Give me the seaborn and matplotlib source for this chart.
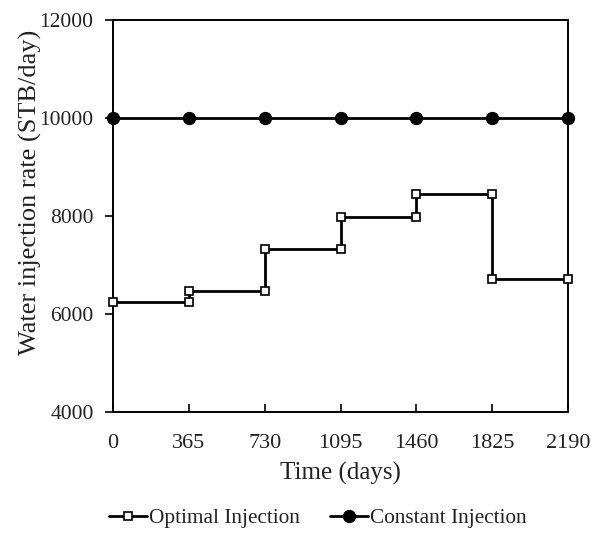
import matplotlib
matplotlib.use("Agg")
import matplotlib.pyplot as plt
import seaborn as sns
import pandas as pd

opt_time = [0, 365, 365, 730, 730, 1095, 1095, 1460, 1460, 1825, 1825, 2190]
opt_rate = [6250, 6250, 6470, 6470, 7320, 7320, 7970, 7970, 8455, 8455, 6710, 6710]
const_time = [0, 365, 730, 1095, 1460, 1825, 2190]
const_rate = [10000, 10000, 10000, 10000, 10000, 10000, 10000]
x_ticks = [0, 365, 730, 1095, 1460, 1825, 2190]
y_ticks = [4000, 6000, 8000, 10000, 12000]

sns.set_style("white")
plt.rcParams['font.family'] = ['Liberation Serif', 'DejaVu Serif']

fig = plt.figure(figsize=(5.92, 5.36), dpi=100)
ax = fig.add_axes([113/592, 1-412/536, (568-113)/592, (412-20)/536])

df_opt = pd.DataFrame({"t": opt_time, "r": opt_rate})
df_const = pd.DataFrame({"t": const_time, "r": const_rate})

sns.lineplot(data=df_opt, x="t", y="r", estimator=None, sort=False, ax=ax,
             color="black", lw=2, marker="s", markersize=5.5,
             markerfacecolor="white", markeredgecolor="black", markeredgewidth=1.2,
             label="Optimal Injection", clip_on=False, zorder=3)
sns.lineplot(data=df_const, x="t", y="r", estimator=None, sort=False, ax=ax,
             color="black", lw=2, marker="o", markersize=8.8,
             markerfacecolor="black", markeredgecolor="black",
             label="Constant Injection", clip_on=False, zorder=3)

ax.set_xlim(0, 2190)
ax.set_ylim(4000, 12000)
ax.set_xticks(x_ticks)
ax.set_yticks(y_ticks)
ax.tick_params(axis='x', bottom=True, direction='in', length=6, width=1.2, labelsize=16, pad=16, color='black', labelcolor='#222222')
ax.tick_params(axis='y', left=True, direction='out', length=6, width=1.2, labelsize=15.5, pad=8, color='black', labelcolor='#222222')
for s in ax.spines.values():
    s.set_color("black")
    s.set_linewidth(1.4)
ax.set_xlabel("Time (days)", fontsize=18, color='#222222', labelpad=6)
ax.set_ylabel("Water injection rate (STB/day)", fontsize=19, color='#222222')
ax.yaxis.set_label_coords(-0.157, 0.561)

leg = ax.legend(loc='center', bbox_to_anchor=(318/592, 1-518/536), bbox_transform=fig.transFigure,
                ncol=2, frameon=False, fontsize=15.3, handlelength=1.8, handletextpad=0.1,
                columnspacing=1.4)
for t in leg.get_texts():
    t.set_color('#222222')

fig.savefig("out.png", dpi=100)
